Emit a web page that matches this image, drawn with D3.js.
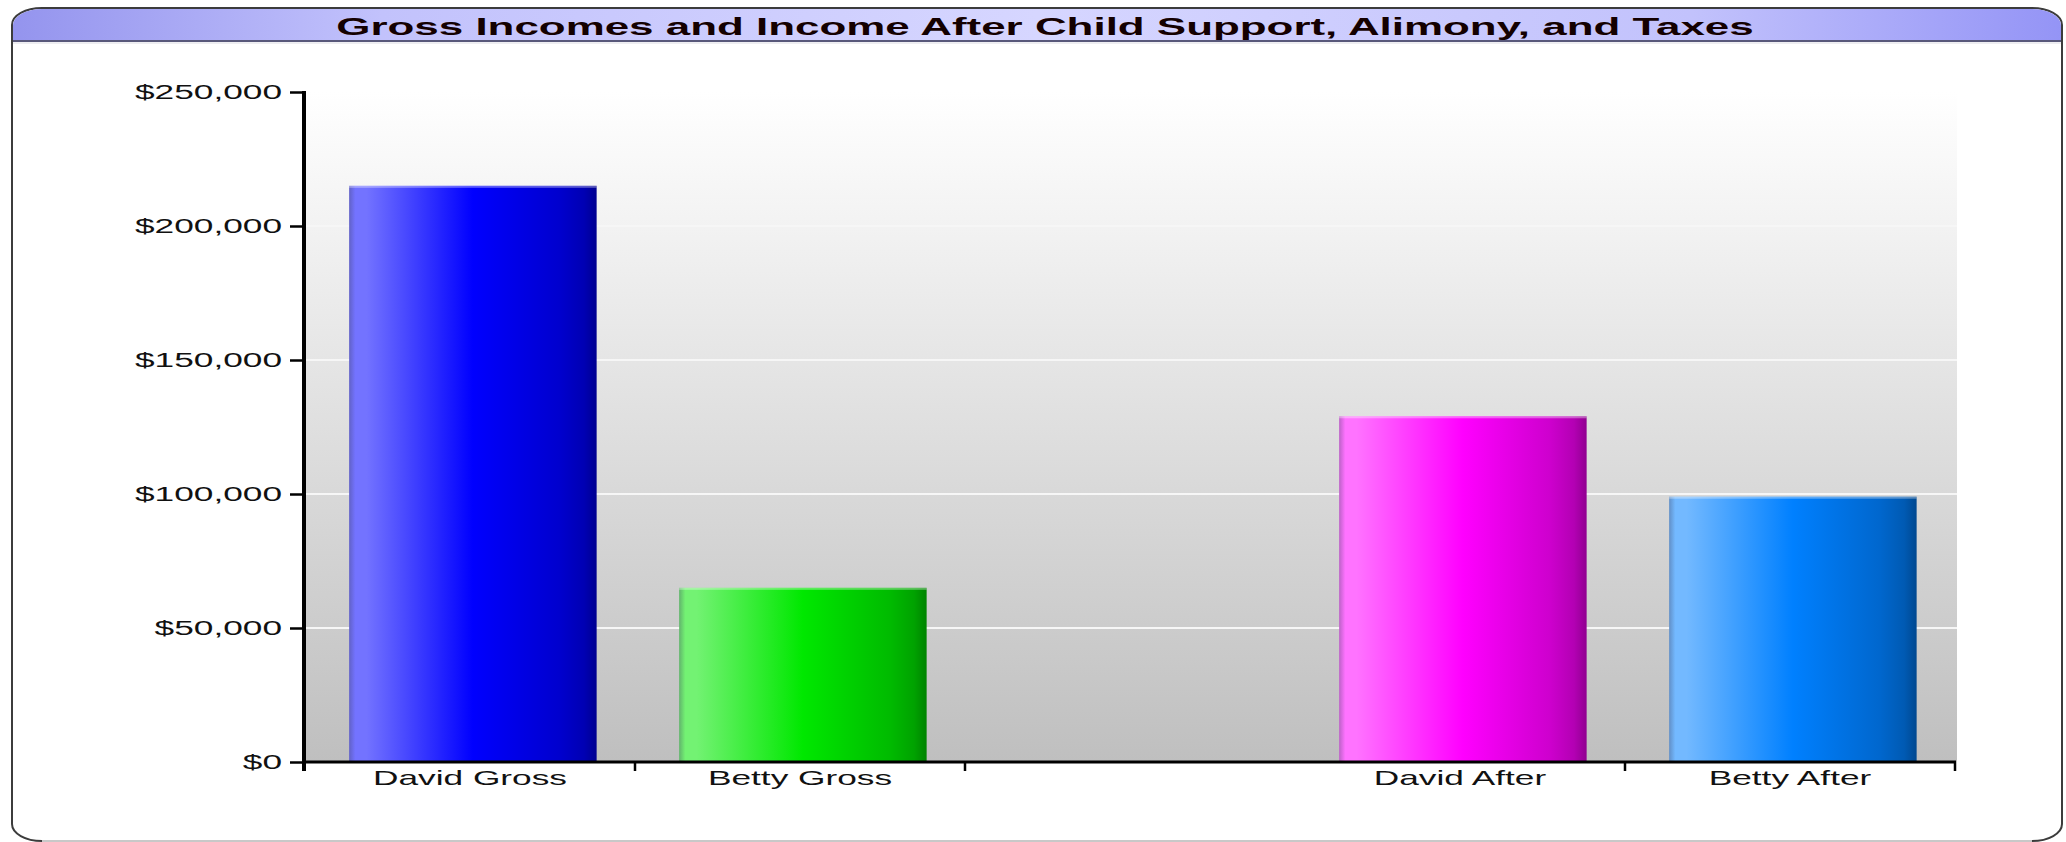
<!DOCTYPE html>
<html>
<head>
<meta charset="utf-8">
<script src="https://cdnjs.cloudflare.com/ajax/libs/d3/7.8.5/d3.min.js"></script>
<style>
  html, body { margin: 0; padding: 0; background: #ffffff; }
  svg { display: block; }
  text { font-family: "Liberation Sans", Arial, sans-serif; }
</style>
</head>
<body>
<script>
// ---- data ----
const title = "Gross Incomes and Income After Child Support, Alimony, and Taxes";
const categories = ["David Gross", "Betty Gross", "", "David After", "Betty After"];
const values = [215000, 65000, null, 129000, 99000];
const barColors = ["#0000ff", "#00e800", null, "#ff00ff", "#0080ff"];
const yTickValues = [0, 50000, 100000, 150000, 200000, 250000];
const yTickLabels = ["$0", "$50,000", "$100,000", "$150,000", "$200,000", "$250,000"];

// ---- layout ----
const W = 2066, H = 842;
const SX = 1.8; // horizontal text stretch of the original picture
const plot = { left: 305, right: 1955, top: 92, bottom: 762 };

const svg = d3.select("body").append("svg").attr("width", W).attr("height", H);
const defs = svg.append("defs");

// scales
const y = d3.scaleLinear().domain([0, 250000]).range([plot.bottom, plot.top]);
const xt = d3.scaleBand().domain(categories).range([plot.left, plot.right]).padding(0);
const xb = d3.scaleBand().domain(categories).range([plot.left, plot.right])
  .paddingInner(0.25).paddingOuter(0.125).align(0.535);

// ---- frame ----
const frame = { x: 12, y: 8, w: 2050, h: 833 };
svg.append("rect")
  .attr("x", frame.x).attr("y", frame.y).attr("width", frame.w).attr("height", frame.h)
  .attr("rx", 30).attr("ry", 17)
  .attr("fill", "#ffffff").attr("stroke", "#3c3c3c").attr("stroke-width", 2);
svg.append("line")
  .attr("x1", frame.x + 30).attr("x2", frame.x + frame.w - 30)
  .attr("y1", frame.y + frame.h).attr("y2", frame.y + frame.h)
  .attr("stroke", "#c8c8c8").attr("stroke-width", 2);

// title bar gradient
const tg = defs.append("linearGradient").attr("id", "titleGrad")
  .attr("x1", 0).attr("x2", 1).attr("y1", 0).attr("y2", 0);
[[0, "#9494ee"], [0.18, "#c2c2fc"], [0.5, "#d6d6ff"], [0.82, "#c2c2fc"], [1, "#9494f6"]]
  .forEach(([o, c]) => tg.append("stop").attr("offset", o).attr("stop-color", c));

const tb = { x0: frame.x + 1, x1: frame.x + frame.w - 1, y0: frame.y + 1, y1: 41 };
const rx = 29, ry = 16;
svg.append("path")
  .attr("d", `M${tb.x0},${tb.y1} L${tb.x0},${tb.y0 + ry} A${rx},${ry} 0 0 1 ${tb.x0 + rx},${tb.y0}
              L${tb.x1 - rx},${tb.y0} A${rx},${ry} 0 0 1 ${tb.x1},${tb.y0 + ry} L${tb.x1},${tb.y1} Z`)
  .attr("fill", "url(#titleGrad)");
svg.append("line")
  .attr("x1", tb.x0).attr("x2", tb.x1).attr("y1", tb.y1).attr("y2", tb.y1)
  .attr("stroke", "#58587a").attr("stroke-width", 2);
svg.append("line")
  .attr("x1", tb.x0).attr("x2", tb.x1).attr("y1", tb.y1 + 2).attr("y2", tb.y1 + 2)
  .attr("stroke", "#dcdce4").attr("stroke-width", 1);

svg.append("text")
  .attr("transform", `translate(1045,35) scale(${SX},1)`)
  .attr("text-anchor", "middle")
  .attr("font-size", 24.4).attr("font-weight", "bold").attr("fill", "#140000")
  .text(title);

// ---- plot background ----
const bg = defs.append("linearGradient").attr("id", "bgGrad")
  .attr("x1", 0).attr("x2", 0).attr("y1", 0).attr("y2", 1);
bg.append("stop").attr("offset", 0).attr("stop-color", "#ffffff");
bg.append("stop").attr("offset", 1).attr("stop-color", "#bfbfbf");
svg.append("rect")
  .attr("x", plot.left).attr("y", y(250000))
  .attr("width", plot.right - plot.left + 2).attr("height", y(0) - y(250000))
  .attr("fill", "url(#bgGrad)");

// gridlines
svg.append("g").selectAll("line")
  .data(yTickValues.filter(v => v > 0 && v < 250000))
  .join("line")
  .attr("x1", plot.left).attr("x2", plot.right + 2)
  .attr("y1", d => y(d)).attr("y2", d => y(d))
  .attr("stroke", "#f6f6f6").attr("stroke-width", 2);

// ---- bars ----
function barGradient(id, base) {
  const b = d3.rgb(base);
  const light = d3.interpolateRgb(base, "#ffffff")(0.45);
  const edge = d3.interpolateRgb(light, "#404060")(0.35);
  const g = defs.append("linearGradient").attr("id", id)
    .attr("x1", 0).attr("x2", 1).attr("y1", 0).attr("y2", 0);
  [[0, edge], [0.025, light], [0.07, light], [0.5, b.formatHex()],
   [0.85, b.darker(0.6).formatHex()], [0.95, b.darker(1.0).formatHex()], [1, b.darker(1.6).formatHex()]]
    .forEach(([o, c]) => g.append("stop").attr("offset", o).attr("stop-color", c));
}
const barData = categories.map((c, i) => ({ cat: c, value: values[i], color: barColors[i], i }))
  .filter(d => d.value != null);
barData.forEach(d => barGradient("bar" + d.i, d.color));

const bars = svg.append("g");
bars.selectAll("rect.bar").data(barData).join("rect")
  .attr("class", "bar")
  .attr("x", d => xb(d.cat)).attr("width", xb.bandwidth())
  .attr("y", d => y(d.value)).attr("height", d => y(0) - y(d.value))
  .attr("fill", d => `url(#bar${d.i})`);
bars.selectAll("rect.hl").data(barData).join("rect")
  .attr("class", "hl")
  .attr("x", d => xb(d.cat)).attr("width", xb.bandwidth())
  .attr("y", d => y(d.value)).attr("height", 2)
  .attr("fill", "#ffffff").attr("opacity", 0.35);

// ---- y axis ----
const yAxis = d3.axisLeft(y).tickValues(yTickValues)
  .tickFormat((d, i) => yTickLabels[i])
  .tickSizeInner(14).tickSizeOuter(0).tickPadding(8);
const gy = svg.append("g").attr("transform", `translate(${plot.left - 1},0)`).call(yAxis);
gy.select(".domain").remove();
gy.selectAll(".tick line").attr("stroke", "#000").attr("stroke-width", 2.5);
gy.selectAll(".tick text")
  .attr("x", null).attr("dy", "0.35em")
  .attr("transform", `translate(-22,0) scale(${SX},1)`)
  .attr("font-size", 19.6).attr("fill", "#111").attr("font-family", null);

// axis lines
svg.append("line")
  .attr("x1", plot.left - 1).attr("x2", plot.left - 1)
  .attr("y1", y(250000) - 1).attr("y2", y(0) + 9)
  .attr("stroke", "#000").attr("stroke-width", 4);
svg.append("line")
  .attr("x1", plot.left - 1).attr("x2", plot.right + 1)
  .attr("y1", y(0)).attr("y2", y(0))
  .attr("stroke", "#000").attr("stroke-width", 3);

// ---- x axis ----
const xAxis = d3.axisBottom(xt).tickSize(0).tickPadding(9);
const gx = svg.append("g").attr("transform", `translate(0,${y(0)})`).call(xAxis);
gx.select(".domain").remove();
gx.selectAll(".tick text")
  .attr("y", null)
  .attr("transform", `translate(0,9) scale(${SX},1)`)
  .attr("font-size", 19.6).attr("fill", "#111").attr("font-family", null);

// category separator ticks (after every labelled category)
const sepTicks = categories.filter(c => c !== "").map(c => xt(c) + xt.bandwidth());
svg.append("g").selectAll("line").data(sepTicks).join("line")
  .attr("x1", d => d).attr("x2", d => d)
  .attr("y1", y(0)).attr("y2", y(0) + 9)
  .attr("stroke", "#000").attr("stroke-width", 2.5);
</script>
</body>
</html>
